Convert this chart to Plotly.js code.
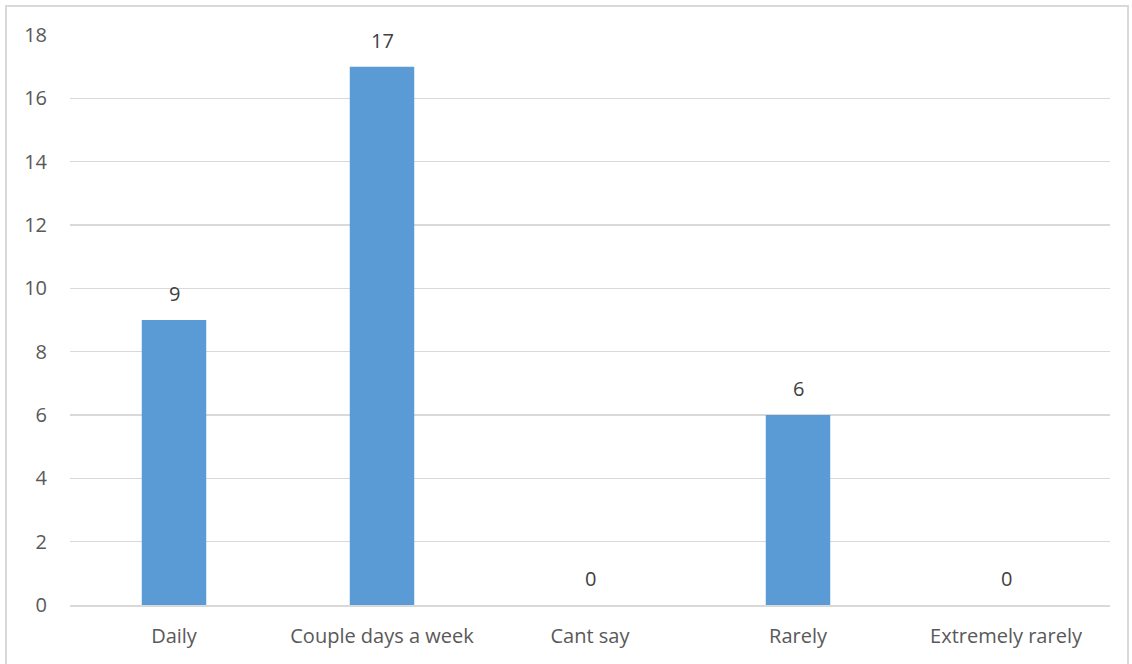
<!DOCTYPE html>
<html>
<head>
<meta charset="utf-8">
<script src="https://cdn.plot.ly/plotly-3.0.1.min.js"></script>
<style>
  html, body { margin: 0; padding: 0; background: #ffffff; }
  #frame { position: absolute; left: 5px; top: 5px; width: 1124px; height: 664px; border: 2px solid #d9d9d9; box-sizing: border-box; }
  #chart { position: absolute; left: 0; top: 0; width: 1132px; height: 664px; }
</style>
</head>
<body>
<div id="chart"></div>
<div id="frame"></div>
<script>
// Frequency categories and response counts
const categories = ["Daily", "Couple days a week", "Cant say", "Rarely", "Extremely rarely"];
const counts = [9, 17, 0, 6, 0];
const yTicks = [0, 2, 4, 6, 8, 10, 12, 14, 16, 18];

const labelFont = { family: "Open Sans, Liberation Sans, sans-serif", size: 20, color: "#404040" };
const tickFont = { family: "Open Sans, Liberation Sans, sans-serif", size: 20, color: "#595959" };

const trace = {
  type: "bar",
  x: categories,
  y: counts,
  width: 0.31,
  marker: { color: "#5b9bd5" },
  hoverinfo: "x+y"
};

// Value labels above each bar
const annotations = categories.map((c, i) => ({
  x: c,
  y: counts[i],
  xref: "x",
  yref: "y",
  text: String(counts[i]),
  showarrow: false,
  yanchor: "bottom",
  yshift: 11,
  font: labelFont
}));

const layout = {
  width: 1132,
  height: 664,
  margin: { l: 70, r: 22, t: 35, b: 59 },
  paper_bgcolor: "#ffffff",
  plot_bgcolor: "#ffffff",
  showlegend: false,
  bargap: 0.69,
  xaxis: {
    type: "category",
    showgrid: false,
    showline: true,
    linecolor: "#d9d9d9",
    linewidth: 1.5,
    ticks: "",
    tickfont: tickFont,
    ticklabelstandoff: 12,
    zeroline: false
  },
  yaxis: {
    range: [0, 18],
    tickvals: yTicks,
    ticktext: yTicks.map(String),
    showgrid: true,
    gridcolor: "#d9d9d9",
    gridwidth: 1.5,
    zeroline: false,
    showline: false,
    ticks: "",
    tickfont: tickFont,
    ticklabelstandoff: 22
  },
  annotations: annotations
};

Plotly.newPlot("chart", [trace], layout, { displayModeBar: false, staticPlot: true });
</script>
</body>
</html>
